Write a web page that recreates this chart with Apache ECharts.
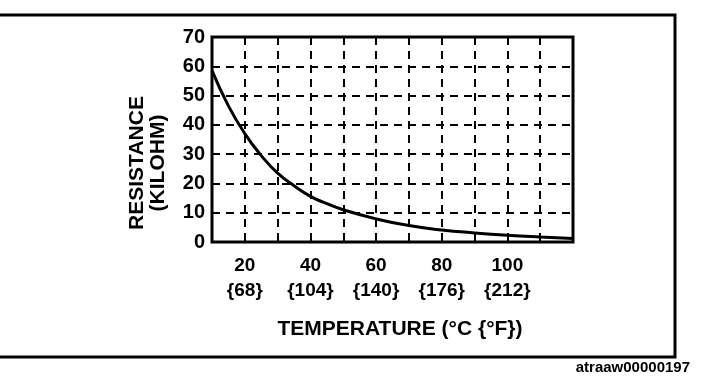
<!DOCTYPE html>
<html>
<head>
<meta charset="utf-8">
<script src="https://cdn.jsdelivr.net/npm/echarts@6/dist/echarts.min.js"></script>
<style>
html,body{margin:0;padding:0;background:#fff;}
#chart{width:704px;height:388px;}
</style>
</head>
<body>
<div id="chart"></div>
<script>
// Temperature (°C) and resistance (kilohm)
const temperatures = [10, 15, 20, 25, 30, 35, 40, 45, 50, 60, 70, 80, 90, 100, 110, 120];
const resistances  = [58.5, 46.5, 37.0, 29.5, 23.5, 19.2, 15.6, 13.1, 11.0, 7.9, 5.6, 4.1, 3.1, 2.3, 1.7, 1.2];
const xLabelC = [20, 40, 60, 80, 100];
const xLabelF = [68, 104, 140, 176, 212];
const yTicks = [0, 10, 20, 30, 40, 50, 60, 70];

const FONT = '"Liberation Sans", Arial, sans-serif';
const chart = echarts.init(document.getElementById('chart'), null, {renderer: 'canvas'});

chart.setOption({
  animation: false,
  backgroundColor: '#fff',
  grid: {left: 212, right: 131, top: 37, bottom: 146, show: true, borderColor: '#000', borderWidth: 3, backgroundColor: 'transparent'},
  xAxis: {
    type: 'value', min: 10, max: 120, interval: 10,
    axisLine: {show: false},
    axisTick: {show: false},
    splitLine: {show: true, lineStyle: {color: '#000', width: 2, type: [8, 6]}},
    axisLabel: {
      color: '#000', fontFamily: FONT, fontSize: 19, fontWeight: 'bold', lineHeight: 25, margin: 11,
      showMinLabel: false, showMaxLabel: false,
      formatter: function (v) {
        const i = xLabelC.indexOf(v);
        return i >= 0 ? xLabelC[i] + '\n{' + xLabelF[i] + '}' : '';
      }
    }
  },
  yAxis: {
    type: 'value', min: yTicks[0], max: yTicks[yTicks.length - 1], interval: 10,
    axisLine: {show: false},
    axisTick: {show: false},
    splitLine: {show: true, lineStyle: {color: '#000', width: 2, type: [8, 6]}},
    axisLabel: {color: '#000', fontFamily: FONT, fontSize: 20, fontWeight: 'bold', margin: 7}
  },
  series: [{
    type: 'line', smooth: 0.5, symbol: 'none',
    data: temperatures.map((t, i) => [t, resistances[i]]),
    lineStyle: {color: '#000', width: 3}
  }],
  graphic: [
    {type: 'polyline', shape: {points: [[0, 15], [675, 15], [675, 357], [0, 357]]}, style: {stroke: '#000', lineWidth: 3, fill: null}},
    {type: 'text', x: 148, y: 163, rotation: Math.PI / 2,
      style: {text: 'RESISTANCE\n(KILOHM)', fill: '#000', font: 'bold 21px ' + FONT, align: 'center', verticalAlign: 'middle', lineHeight: 21}},
    {type: 'text', x: 400, y: 329,
      style: {text: 'TEMPERATURE (°C {°F})', fill: '#000', font: 'bold 21px ' + FONT, align: 'center', verticalAlign: 'middle'}},
    {type: 'text', x: 690, y: 368,
      style: {text: 'atraaw00000197', fill: '#000', font: 'bold 15px ' + FONT, align: 'right', verticalAlign: 'middle'}}
  ]
});
</script>
</body>
</html>
